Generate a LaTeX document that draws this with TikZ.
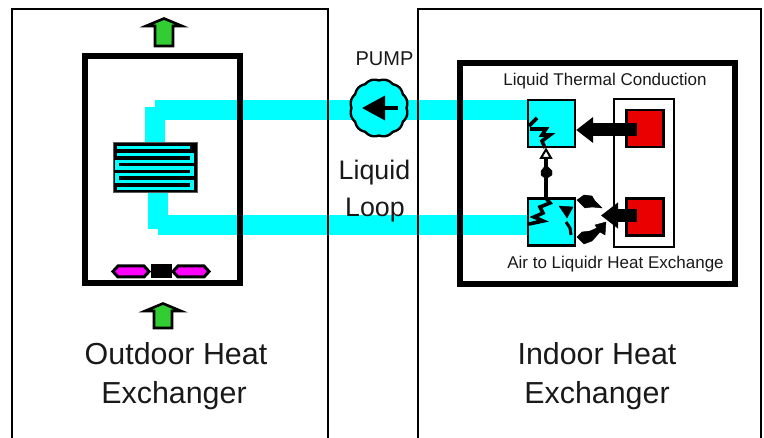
\documentclass[tikz,border=0pt]{standalone}
\usepackage{fontspec}
\setmainfont{Liberation Sans}
\usetikzlibrary{arrows.meta}
\definecolor{pipecol}{RGB}{0,255,255}
\definecolor{hotcol}{RGB}{235,0,0}
\definecolor{fancol}{RGB}{255,0,255}
\definecolor{arrowcol}{RGB}{50,205,50}
\definecolor{txtcol}{RGB}{25,25,25}
\tikzset{
 x=1pt,y=-1pt,
 pipe/.style={line width=20pt,draw=pipecol},
 wall/.style={line width=2.6pt,draw=black},
 cabinet/.style={line width=6.5pt,draw=black,fill=none},
 exch/.style={draw=black,line width=2.4pt,fill=pipecol,minimum width=47pt,minimum height=47pt,inner sep=0pt},
 hot/.style={draw=black,line width=2.8pt,fill=hotcol,minimum width=37pt,minimum height=37pt,inner sep=0pt},
 airflow/.style={draw=black,line width=2.6pt,fill=arrowcol,line join=miter},
 blade/.style={draw=black,line width=3pt,fill=fancol},
 heat/.style={line width=13pt,draw=black,-{Triangle[length=17pt,width=25pt]}},
 zig/.style={draw=black,line width=3.6pt,line join=miter},
 small/.style={draw=black,fill=black},
 big/.style={font=\fontsize{30.4}{32}\selectfont,text=txtcol,inner sep=0pt},
 mid/.style={font=\fontsize{26.8}{28}\selectfont,text=txtcol,inner sep=0pt},
 lab/.style={font=\fontsize{17}{18}\selectfont,text=txtcol,inner sep=0pt},
}
\begin{document}
\begin{tikzpicture}
\useasboundingbox (0,0) rectangle (764,438);
% named end points
\node[exch] (boxU) at (551.5,123.5) {};
\node[exch] (boxL) at (551.5,222) {};
\node[inner sep=0pt,minimum width=84pt,minimum height=50pt] (coil) at (155,168) {};
\coordinate (pU1) at (155,143);
\coordinate (pL1) at (158,193);
% pipes
\draw[pipe] (pU1) -- (155,107);
\draw[pipe] (155,110) -- (boxU.west |- 0,110);
\draw[pipe] (pL1) -- (158,229);
\draw[pipe] (158,225) -- (boxL.west |- 0,225);
% re-draw boxes above the pipes
\node[exch] at (boxU) {};
\node[exch] at (boxL) {};
% outer walls
\draw[wall] (12,438) -- (12,9) -- (328,9) -- (328,438);
\draw[wall] (418,438) -- (418,9) -- (761,9) -- (761,438);
% cabinets
\draw[cabinet] (85,56) rectangle (240,283);
\draw[cabinet] (460,63) rectangle (735,284);
% coil
\node[draw=black!65,line width=1pt,fill=black,minimum width=84pt,minimum height=50pt,inner sep=0pt] at (coil) {};
\draw[pipecol,line width=3.6pt] (117,147.5) -- (190,147.5);
\draw[pipecol,line width=3.6pt,line join=miter]
 (117,154.5) -- (192,154.5) -- (192,161.5) -- (117,161.5) -- (117,168) -- (192,168) -- (192,174.5) -- (117,174.5) -- (117,181.5) -- (192,181.5) -- (192,188.5) -- (117,188.5);
% fan
\draw[blade] (113,271.5) -- (118,266) -- (144,266) -- (149,271.5) -- (144,277) -- (118,277) -- cycle;
\draw[blade] (173,271.5) -- (178,266) -- (204,266) -- (209,271.5) -- (204,277) -- (178,277) -- cycle;
\node[fill=black,minimum width=21pt,minimum height=14pt,inner sep=0pt] (motor) at (161,271.5) {};
% green arrows
\draw[airflow] (164,18.5) -- (146,26) -- (155,26) -- (155,46) -- (173,46) -- (173,26) -- (182,26) -- cycle;
\draw[airflow] (163,303.5) -- (145,311) -- (154,311) -- (154,328) -- (172,328) -- (172,311) -- (181,311) -- cycle;
% pump
\draw[black,line width=2.4pt,fill=pipecol] plot[domain=0:360,samples=181,smooth] ({379+(27.5+1.4*abs(sin(\x*6)))*cos(\x)},{108+(27.5+1.4*abs(sin(\x*6)))*sin(\x)}) -- cycle;
\node[inner sep=0pt,minimum size=1pt] (pumpc) at (399,108) {};
\coordinate (pumpt) at (362,108);
\draw[line width=3.5pt,draw=black,-{Triangle[length=23pt,width=24pt]}] (pumpc) -- (pumpt);
% indoor heat sources
\node[draw=black,line width=2.8pt,fill=white,minimum width=60pt,minimum height=148pt,inner sep=0pt] (frame) at (644,173) {};
\node[hot] (redU) at (645,128.5) {};
\node[hot] (redL) at (645,217) {};
\coordinate (srcU) at (637,130);
\coordinate (srcL) at (637,215.5);
\coordinate (tipU) at (boxU.east |- srcU);
\coordinate (tipL) at (601,215.5);
\draw[heat] (srcU) -- (tipU);
\draw[heat] (srcL) -- (tipL);
% link between exchangers
\draw[draw=black,line width=3.6pt] (boxL.north -| 546,0) -- (546,158);
\draw[draw=black,fill=white,line width=2pt] (546,149.5) -- (541,158) -- (551,158) -- cycle;
\draw[small] (546,165) -- (552,171) -- (552,175) -- (546,179) -- (541,175) -- (541,171) -- cycle;
% zigzags
\draw[zig] (529,126) -- (537,118);
\draw[zig] (530,129) -- (546,129) -- (542,135) -- (550,135) -- (542,141) -- (545,148);
\draw[zig] (545,197) -- (550,203) -- (540,207) -- (543,213) -- (534,217) -- (543,221) -- (529,224);
% diffused heat
\draw[small] (577,200) -- (584,195) -- (592,196) -- (595,201) -- (602,208) -- (592,207) -- (585,208) -- cycle;
\draw[small] (577,237) -- (582,232) -- (590,231) -- (597,228) -- (595,225) -- (606,222) -- (605,235) -- (600,232) -- (592,241) -- (584,244) -- cycle;
\draw[small] (559,206) -- (573,207) -- (567,218) -- cycle;
\draw[zig,line width=3pt] (566,222) -- (570,228) -- (571,235);
% text
\node[lab,font=\fontsize{20}{22}\selectfont] (tPump) at (384.5,59) {PUMP};
\node[mid] (tLiquid) at (374.5,173) {Liquid};
\node[mid] (tLoop) at (375,210) {Loop};
\node[big] (tOut1) at (176,354) {Outdoor Heat};
\node[big] (tOut2) at (174,396) {Exchanger};
\node[big] (tIn1) at (597,354) {Indoor Heat};
\node[big] (tIn2) at (597,396) {Exchanger};
\node[lab] (tCond) at (605,81) {Liquid Thermal Conduction};
\node[lab] (tAir) at (615.5,264) {Air to Liquidr Heat Exchange};
\end{tikzpicture}
\end{document}
